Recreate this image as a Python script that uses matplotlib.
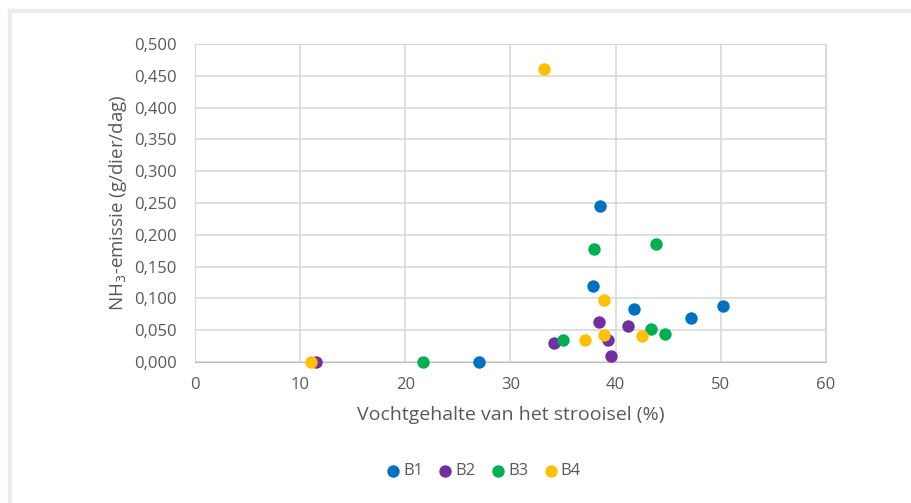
import matplotlib.pyplot as plt
from matplotlib.patches import Rectangle
from matplotlib.ticker import FuncFormatter

# data
b1_x = [27.0, 38.5, 37.8, 41.7, 47.2, 50.2]
b1_y = [0.000, 0.245, 0.120, 0.083, 0.069, 0.088]
b2_x = [11.5, 34.1, 38.4, 39.3, 39.6, 41.2]
b2_y = [0.000, 0.030, 0.063, 0.035, 0.009, 0.057]
b3_x = [21.7, 35.0, 37.9, 43.8, 43.4, 44.7]
b3_y = [0.000, 0.035, 0.177, 0.186, 0.052, 0.044]
b4_x = [11.0, 33.2, 38.9, 38.9, 37.1, 42.5]
b4_y = [0.000, 0.460, 0.097, 0.042, 0.034, 0.041]

series = ['B1', 'B2', 'B3', 'B4']
colors = ['#0070C0', '#7030A0', '#00B050', '#FFC000']
xs = [b1_x, b2_x, b3_x, b4_x]
ys = [b1_y, b2_y, b3_y, b4_y]

plt.rcParams['font.family'] = ['Open Sans', 'DejaVu Sans']
txt = '#595959'

W, H = 912, 503
fig = plt.figure(figsize=(W / 100, H / 100), dpi=100)
# outer grey frame (top and left edge)
fig.patches.append(Rectangle((8 / W, 0), 3 / W, 1 - 9 / H, transform=fig.transFigure,
                             color='#ebebeb', zorder=0))
fig.patches.append(Rectangle((8 / W, 1 - 12 / H), 1 - 8 / W, 3 / H, transform=fig.transFigure,
                             color='#ebebeb', zorder=0))

ax = fig.add_axes([195 / W, (H - 362) / H, (826 - 195) / W, (362 - 44) / H])
for name, c, x, y in zip(series, colors, xs, ys):
    ax.scatter(x, y, s=80, color=c, label=name, zorder=3, linewidths=0, clip_on=False)

ax.set_xlim(0, 60)
ax.set_ylim(0, 0.5)
ax.set_xticks(range(0, 61, 10))
ax.set_yticks([i * 0.05 for i in range(11)])
ax.yaxis.set_major_formatter(FuncFormatter(lambda v, p: f'{v:.3f}'.replace('.', ',')))
ax.grid(True, color='#d9d9d9', linewidth=1.2)
ax.set_axisbelow(True)
for s in ['top', 'right', 'left']:
    ax.spines[s].set_color('#d9d9d9')
ax.spines['bottom'].set_color('#bfbfbf')
ax.tick_params(length=0, labelsize=12, labelcolor=txt)
ax.tick_params(axis='y', pad=13)
ax.tick_params(axis='x', pad=11)

ax.set_xlabel('Vochtgehalte van het strooisel (%)', fontsize=14, color=txt, labelpad=9)
ax.set_ylabel('NH$_3$-emissie (g/dier/dag)', fontsize=13.5, color=txt, labelpad=4)

fig.legend(loc='center', bbox_to_anchor=(482 / W, 1 - 471 / H), ncol=4, frameon=False,
           fontsize=12, labelcolor=txt, handletextpad=0.0, columnspacing=0.75,
           handlelength=1.2, markerscale=1.0)

fig.savefig('out.png', dpi=100)
